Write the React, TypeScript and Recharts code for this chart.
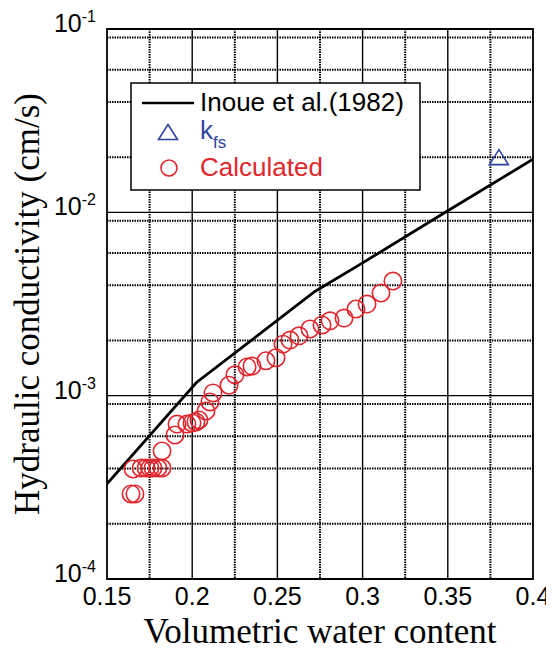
import React from "react";
import {
  ComposedChart,
  Line,
  Scatter,
  XAxis,
  YAxis,
  CartesianGrid,
  ReferenceArea,
  Customized,
} from "recharts";

// Inoue et al. (1982) curve
const thetaInoue = [0.15, 0.2025, 0.272, 0.3, 0.35, 0.4];
const kInoue = [3.3e-4, 1.18e-3, 3.7e-3, 5.3e-3, 1.02e-2, 1.95e-2];

// k_fs
const thetaKfs = [0.38];
const kKfs = [0.02];

// Calculated
const thetaCalc = [
  0.1641, 0.1664, 0.1653, 0.17, 0.1729, 0.1752, 0.177, 0.1799, 0.1823, 0.1823,
  0.1899, 0.1911, 0.1969, 0.1999, 0.2022, 0.204, 0.2081, 0.2104, 0.2122, 0.2216,
  0.2251, 0.2322, 0.2351, 0.2433, 0.2492, 0.2533, 0.2574, 0.2627, 0.2691, 0.2762,
  0.2809, 0.2891, 0.2961, 0.3026, 0.3108, 0.3178,
];
const kCalc = [
  2.91e-4, 2.91e-4, 3.98e-4, 4.03e-4, 4.03e-4, 4.03e-4, 4.03e-4, 4.03e-4, 4.03e-4, 4.99e-4,
  6.1e-4, 7.0e-4, 7.0e-4, 7.1e-4, 7.19e-4, 7.37e-4, 8.25e-4, 9.24e-4, 1.035e-3, 1.14e-3,
  1.3e-3, 1.435e-3, 1.45e-3, 1.55e-3, 1.61e-3, 1.91e-3, 2.01e-3, 2.12e-3, 2.31e-3, 2.43e-3,
  2.56e-3, 2.65e-3, 2.97e-3, 3.16e-3, 3.63e-3, 4.22e-3,
];

const xTicks = [0.15, 0.2, 0.25, 0.3, 0.35, 0.4];
const xMajorInner = [0.2, 0.25, 0.3, 0.35];
const xMinor = [0.175, 0.225, 0.275, 0.325, 0.375];
const yTicks = [1e-4, 1e-3, 1e-2, 1e-1];
const yMajorInner = [1e-3, 1e-2];
const yMinorMult = [2, 3, 4, 5, 6, 7, 8, 9];
const yDecades = [1e-4, 1e-3, 1e-2];

const inoueData = thetaInoue.map((t, i) => ({ x: t, y: kInoue[i] }));
const kfsData = thetaKfs.map((t, i) => ({ x: t, y: kKfs[i] }));
const calcData = thetaCalc.map((t, i) => ({ x: t, y: kCalc[i] }));
const yMinor = yDecades.flatMap((d) => yMinorMult.map((m) => m * d));

const RED = "#E1262D";
const BLUE = "#2E44A0";
const SANS = "'Liberation Sans', Arial, sans-serif";
const SERIF = "'Liberation Serif', 'Times New Roman', serif";

const YTick = (props: any) => {
  const { x, y, payload } = props;
  const exp = Math.round(Math.log10(payload.value));
  return (
    <text x={x} y={y + 3} textAnchor="end" fontFamily={SANS} fontSize={25} fill="#000">
      10
      <tspan dy={-10} fontSize={16}>
        {String(exp)}
      </tspan>
    </text>
  );
};

const XTick = (props: any) => {
  const { x, y, payload } = props;
  return (
    <text x={x} y={y + 26} textAnchor="middle" fontFamily={SANS} fontSize={25} fill="#000">
      {String(payload.value)}
    </text>
  );
};

const CircleShape = (props: any) => {
  const { cx, cy } = props;
  if (cx == null || cy == null) return null;
  return <circle cx={cx} cy={cy} r={8.7} fill="none" stroke={RED} strokeWidth={1.6} />;
};

const TriShape = (props: any) => {
  const { cx, cy } = props;
  if (cx == null || cy == null) return null;
  const w = 9.5;
  const h = 15;
  return (
    <polygon
      points={`${cx},${cy - h / 2} ${cx + w},${cy + h / 2} ${cx - w},${cy + h / 2}`}
      fill="none"
      stroke={BLUE}
      strokeWidth={1.6}
    />
  );
};

const Decorations = () => (
  <g>
    {/* legend */}
    <rect x={123} y={75} width={289} height={107} fill="#fff" stroke="#000" strokeWidth={1.5} />
    <line x1={134} y1={95} x2={186} y2={95} stroke="#000" strokeWidth={2.6} />
    <text x={192} y={103} fontFamily={SANS} fontSize={26} fill="#000">
      Inoue et al.(1982)
    </text>
    <polygon points="160,116.5 169.5,131.5 150.5,131.5" fill="none" stroke={BLUE} strokeWidth={1.6} />
    <text x={192} y={131} fontFamily={SANS} fontSize={26} fill={BLUE}>
      k
      <tspan dy={9} fontSize={17}>
        fs
      </tspan>
    </text>
    <circle cx={161} cy={160} r={8} fill="none" stroke={RED} strokeWidth={1.6} />
    <text x={192} y={168} fontFamily={SANS} fontSize={26} fill={RED}>
      Calculated
    </text>
    {/* axis titles */}
    <text x={312} y={635} textAnchor="middle" fontFamily={SERIF} fontSize={35} fill="#000">
      Volumetric water content
    </text>
    <text
      x={0}
      y={0}
      transform="translate(31,296) rotate(-90)"
      textAnchor="middle"
      fontFamily={SERIF}
      fontSize={35}
      fill="#000"
    >
      Hydraulic conductivity (cm/s)
    </text>
  </g>
);

export default function App() {
  return (
    <ComposedChart
      width={546}
      height={642}
      margin={{ top: 21, right: 21, left: 39, bottom: 31 }}
    >
      <XAxis
        type="number"
        dataKey="x"
        domain={[0.15, 0.4]}
        ticks={xTicks}
        tick={<XTick />}
        tickLine={false}
        axisLine={false}
        tickSize={0}
        tickMargin={0}
        height={40}
        allowDataOverflow
      />
      <YAxis
        type="number"
        dataKey="y"
        scale="log"
        domain={[1e-4, 1e-1]}
        ticks={yTicks}
        tick={<YTick />}
        tickLine={false}
        axisLine={false}
        tickSize={0}
        tickMargin={11}
        width={60}
        allowDataOverflow
      />
      <CartesianGrid
        horizontalValues={yMinor}
        verticalValues={xMinor}
        stroke="#000"
        strokeWidth={2}
        strokeDasharray="1.5 1"
      />
      <CartesianGrid
        horizontalValues={yMajorInner}
        verticalValues={xMajorInner}
        stroke="#000"
        strokeWidth={1.4}
      />
      <ReferenceArea
        x1={0.15}
        x2={0.4}
        y1={1e-4}
        y2={1e-1}
        fill="none"
        fillOpacity={0}
        stroke="#000"
        strokeWidth={1.8}
        ifOverflow="visible"
      />
      <Line
        data={inoueData}
        dataKey="y"
        type="linear"
        stroke="#000"
        strokeWidth={2.8}
        dot={false}
        isAnimationActive={false}
      />
      <Scatter data={calcData} dataKey="y" shape={<CircleShape />} isAnimationActive={false} />
      <Scatter data={kfsData} dataKey="y" shape={<TriShape />} isAnimationActive={false} />
      <Customized component={<Decorations />} />
    </ComposedChart>
  );
}
